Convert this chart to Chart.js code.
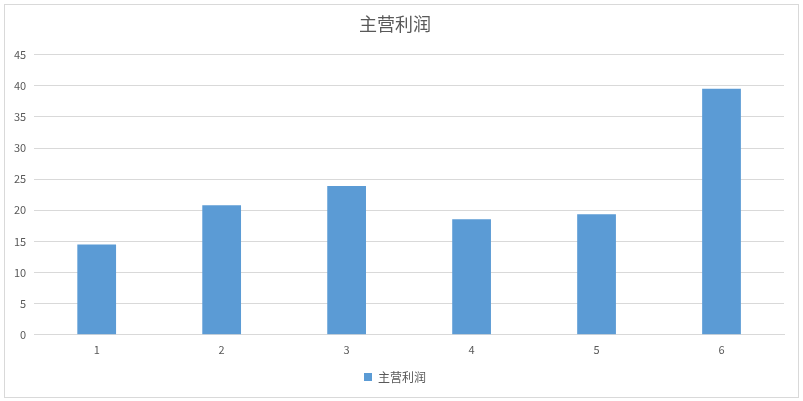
<!DOCTYPE html>
<html>
<head>
<meta charset="utf-8">
<script src="https://cdn.jsdelivr.net/npm/chart.js@4/dist/chart.umd.min.js"></script>
<style>
  html, body { margin: 0; padding: 0; background: #fff; }
  body { width: 803px; height: 401px; position: relative; overflow: hidden; }
  #frame {
    position: absolute; left: 4px; top: 4px;
    width: 793px; height: 392px;
    border: 1px solid #d9d9d9; background: #fff;
  }
</style>
</head>
<body>
<div id="frame"><canvas id="grafico"></canvas></div>
<script>
  let categorias = ["1", "2", "3", "4", "5", "6"];
  let valores = [14.5, 20.8, 23.9, 18.55, 19.35, 39.5];
  let nombreSerie = "主营利润";

  let fuente = '"Noto Sans CJK SC", "Noto Sans", sans-serif';
  let gris = "#595959";

  let ctx = document.getElementById("grafico").getContext("2d");
  ctx.canvas.style.width = "793px";
  ctx.canvas.style.height = "392px";

  let grafico = new Chart(ctx, {
    type: "bar",
    data: {
      labels: categorias,
      datasets: [{
        label: nombreSerie,
        data: valores,
        backgroundColor: "#5B9BD5",
        categoryPercentage: 1,
        barPercentage: 0.31,
      }],
    },
    options: {
      responsive: false,
      animation: false,
      layout: { padding: { left: 1, right: 14, top: 0, bottom: 4 } },
      plugins: {
        title: {
          display: true,
          text: nombreSerie,
          color: gris,
          font: { family: fuente, size: 18, weight: "normal" },
          padding: { top: 8, bottom: 20 },
        },
        legend: {
          position: "bottom",
          labels: {
            color: gris,
            font: { family: fuente, size: 12 },
            boxWidth: 8,
            boxHeight: 8,
            padding: 15,
          },
        },
        tooltip: { enabled: false },
      },
      scales: {
        x: {
          grid: { display: false },
          border: { color: "#d9d9d9" },
          ticks: { color: gris, font: { family: fuente, size: 11 }, padding: 0 },
        },
        y: {
          min: 0,
          max: 45,
          ticks: { stepSize: 5, color: gris, font: { family: fuente, size: 11 }, padding: 8 },
          grid: { color: "#d9d9d9", drawTicks: false },
          border: { display: false },
        },
      },
    },
  });
</script>
</body>
</html>
